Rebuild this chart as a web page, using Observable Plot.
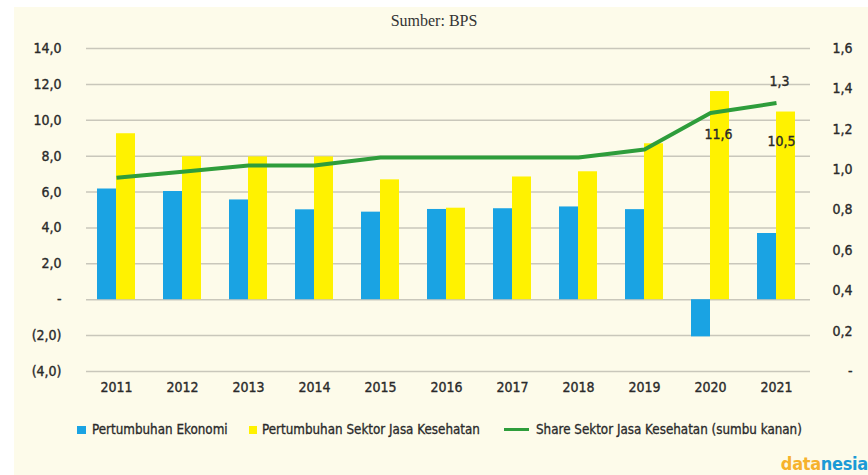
<!DOCTYPE html>
<html><head><meta charset="utf-8">
<script src="https://cdn.jsdelivr.net/npm/d3@7"></script>
<script src="https://cdn.jsdelivr.net/npm/@observablehq/plot@0.6"></script>
<style>
body{margin:0;background:#fff;width:868px;height:475px;overflow:hidden;position:relative;font-family:"DejaVu Sans Condensed","DejaVu Sans",sans-serif;}
#bg{position:absolute;left:14px;top:7px;width:854px;height:468px;background:#fdfbea;}
#chart{position:absolute;left:0;top:0;}
#chart svg text{stroke:#2a2a2a;stroke-width:0.35px;}
#source{position:absolute;top:12px;left:0;width:868px;text-align:center;font-family:"Liberation Serif","DejaVu Serif",serif;font-size:16px;color:#333;}
.leg{position:absolute;top:421px;font-size:13.3px;color:#2a2a2a;white-space:nowrap;line-height:17px;-webkit-text-stroke:0.3px #2a2a2a;}
.sw{position:absolute;}
#logo{position:absolute;right:0;top:453px;font-family:"DejaVu Sans Condensed",sans-serif;font-weight:bold;font-size:18px;letter-spacing:-0.3px;}
</style></head>
<body>
<div id="bg"></div>
<div id="source">Sumber: BPS</div>
<div id="chart"></div>
<div class="sw" style="left:77px;top:426px;width:9px;height:8px;background:#1aa3e3"></div>
<div class="leg" style="left:92px">Pertumbuhan Ekonomi</div>
<div class="sw" style="left:249px;top:426px;width:8px;height:8px;background:#fff200"></div>
<div class="leg" style="left:262px">Pertumbuhan Sektor Jasa Kesehatan</div>
<div class="sw" style="left:504px;top:428px;width:25px;height:3px;background:#2e9d3b"></div>
<div class="leg" style="left:536px">Share Sektor Jasa Kesehatan (sumbu kanan)</div>
<div id="logo"><span style="color:#f6b22c">data</span><span style="color:#1b9ad6">nesia</span></div>
<script>
const years = ["2011","2012","2013","2014","2015","2016","2017","2018","2019","2020","2021"];
const ekonomi = [6.17,6.03,5.56,5.01,4.88,5.03,5.07,5.17,5.02,-2.07,3.69];
const kesehatan = [9.25,7.97,7.96,7.96,6.68,5.1,6.84,7.13,8.69,11.60,10.46];
const share = [0.96,0.99,1.02,1.02,1.06,1.06,1.06,1.06,1.10,1.28,1.33];
const leftTicks = [-4,-2,0,2,4,6,8,10,12,14];
const rightTicks = [0,0.2,0.4,0.6,0.8,1.0,1.2,1.4,1.6];
const labels = [
  {year:"2021", value:1.33, text:"1,3", series:"share", dx:3, dy:-21},
  {year:"2020", value:11.60, text:"11,6", series:"kes", dx:8, dy:43},
  {year:"2021", value:10.46, text:"10,5", series:"kes", dx:5, dy:29}
];

// right axis (share) mapped onto left axis domain: 0 -> -4, 1.6 -> 14
const toLeft = r => r * 18 / 1.6 - 4;
const fmtLeft = v => v === 0 ? "-" : v < 0 ? "(" + Math.abs(v).toFixed(1).replace(".", ",") + ")" : v.toFixed(1).replace(".", ",");
const fmtRight = r => r === 0 ? "-" : r.toFixed(1).replace(".", ",");

const rows = years.map((y, i) => ({year: y, eko: ekonomi[i], kes: kesehatan[i], share: share[i], shareL: toLeft(share[i])}));

const font = '"DejaVu Sans Condensed","DejaVu Sans",sans-serif';
const plot = Plot.plot({
  width: 868, height: 400,
  marginLeft: 82, marginRight: 58, marginTop: 48, marginBottom: 29,
  style: {background: "transparent", fontFamily: font, fontSize: "14px", color: "#2a2a2a"},
  x: {domain: years, padding: 0, axis: null, label: null},
  y: {domain: [-4, 14], axis: null, label: null},
  marks: [
    Plot.ruleY(leftTicks, {stroke: "#c9c7bb", strokeWidth: 1.5, insetLeft: 4}),
    Plot.barY(rows, {x: "year", y: "eko", fill: "#1aa3e3", insetLeft: 14, insetRight: 33}),
    Plot.barY(rows, {x: "year", y: "kes", fill: "#fff200", insetLeft: 33, insetRight: 14}),
    Plot.line(rows, {x: "year", y: "shareL", stroke: "#2e9d3b", strokeWidth: 4, strokeLinejoin: "round", strokeLinecap: "butt"}),
    ...labels.map(d => Plot.text([d], {
      x: "year",
      y: d.series === "share" ? toLeft(d.value) : d.value,
      text: "text", dx: d.dx, dy: d.dy, fill: "#2a2a2a", fontSize: 14
    })),
    Plot.axisY({ticks: leftTicks, tickFormat: fmtLeft, tickSize: 0, tickPadding: 21, anchor: "left", fontSize: 14, label: null}),
    Plot.axisY({ticks: rightTicks.map(toLeft), tickFormat: v => fmtRight(Math.round((v + 4) / 11.25 * 10) / 10), tickSize: 0, tickPadding: 42, anchor: "right", textAnchor: "end", fontSize: 14, label: null}),
    Plot.axisX({tickSize: 0, tickPadding: 11, fontSize: 14, label: null})
  ]
});
document.getElementById("chart").appendChild(plot);
</script>
</body></html>
